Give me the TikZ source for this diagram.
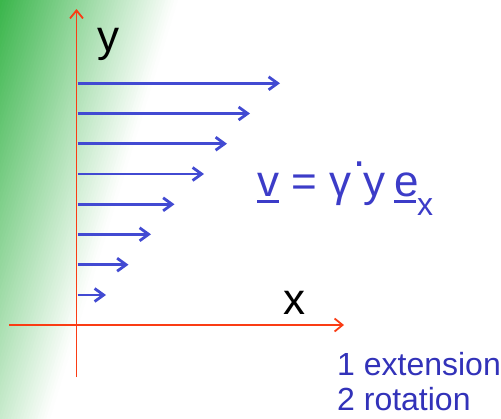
\documentclass[tikz,border=0pt]{standalone}
\usepackage{fontspec}
\setmainfont{Liberation Sans}
\usetikzlibrary{arrows.meta}
\definecolor{bggreen}{RGB}{57,181,74}
\definecolor{axisred}{RGB}{250,60,20}
\definecolor{flowblue}{RGB}{66,74,210}
\definecolor{eqblue}{RGB}{60,60,200}
\definecolor{noteblue}{RGB}{50,50,185}
\newcommand\ulbox[2][0pt]{\setbox0\hbox{#2}\rlap{\rule[-6.5pt]{\dimexpr\wd0-#1\relax}{2.6pt}}\box0\relax}
\begin{document}
\begin{tikzpicture}[x=1pt,y=-1pt,
  axis/.style={draw=axisred,line width=1.8pt,-{Straight Barb[length=8pt,width=13pt]}},
  flow/.style={draw=flowblue,line width=2.8pt,-{Straight Barb[length=9pt,width=13pt]}},
  biglbl/.style={inner sep=0pt,anchor=base west,font=\fontsize{44}{48}\selectfont},
  note/.style={inner sep=0pt,anchor=base west,text=noteblue,font=\fontsize{32}{35}\selectfont}]
\useasboundingbox (0,0) rectangle (501,418);
\fill[white] (0,0) rectangle (501,418);
% green background gradient
\begin{scope}
  \clip (0,0) rectangle (501,418);
  \begin{scope}[rotate=-17]
    \foreach \i in {0,...,59}{
      \pgfmathsetmacro\pa{169.4*\i/60}
      \pgfmathsetmacro\pb{169.4*(\i+1)/60+0.6}
      \pgfmathsetmacro\pc{100-100*(\i+0.5)/60}
      \fill[bggreen!\pc!white] (\pa,-400) rectangle (\pb,800);
    }
  \end{scope}
\end{scope}
% axes
\coordinate (yb) at (76.5,377);
\coordinate (yt) at (76.5,9);
\coordinate (xl) at (9,325);
\coordinate (xr) at (344,325);
\draw[axis] (yb) -- (yt);
\draw[axis] (xl) -- (xr);
% velocity arrows
\foreach \yy/\xx [count=\i] in {83.3/280,113.5/250,143.7/227,174/204,204.3/174.5,234.3/151,264.7/128.5,295/106}{
  \coordinate (s\i) at (77.5,\yy);
  \coordinate (e\i) at (\xx,\yy);
  \draw[flow] (s\i) -- (e\i);
}
% labels
\node[biglbl] (ylab) at (97,51.5) {y};
\node[biglbl] (xlab) at (283,314) {x};
\node[biglbl,text=eqblue] (eq) at (257,196) {\ulbox{v} = γ \llap{\raisebox{30pt}{.}\kern-2.5pt}y\hspace{8.5pt}\ulbox[3pt]{e}\kern-1.5pt\raisebox{-19pt}{\fontsize{32}{32}\selectfont x}};
\node[note] (n1) at (337,375) {1 extension};
\node[note] (n2) at (337,410) {2 rotation};
\end{tikzpicture}
\end{document}
